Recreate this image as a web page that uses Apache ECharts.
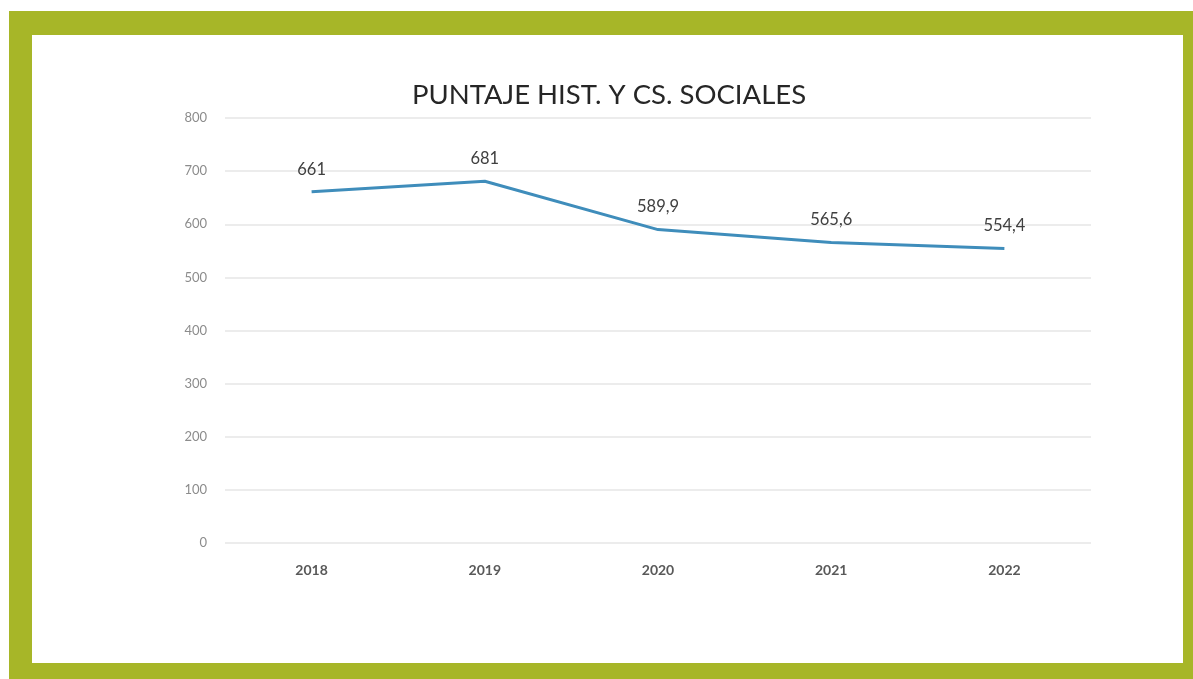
<!DOCTYPE html>
<html>
<head>
<meta charset="utf-8">
<title>Puntaje</title>
<script src="https://cdn.jsdelivr.net/npm/echarts@6/dist/echarts.min.js"></script>
<style>
  body { margin: 0; background: #fff; }
  #frame { position: absolute; left: 9px; top: 11px; width: 1184px; height: 668px; background: #a7b628; }
  #paper { position: absolute; left: 32px; top: 35px; width: 1151px; height: 628px; background: #fff; }
  #main { position: absolute; left: 0; top: 0; width: 1193px; height: 679px; }
</style>
</head>
<body>
<div id="frame"></div>
<div id="paper"></div>
<div id="main"></div>
<script type="text/javascript">
// datos del grafico
var years = ['2018', '2019', '2020', '2021', '2022'];
var puntaje = [661, 681, 589.9, 565.6, 554.4];
var yTicks = [0, 100, 200, 300, 400, 500, 600, 700, 800];

var chart = echarts.init(document.getElementById('main'));

var option = {
  title: {
    text: 'PUNTAJE HIST. Y CS. SOCIALES',
    left: 604,
    textAlign: 'center',
    top: 76,
    textStyle: {
      fontFamily: 'Lato',
      fontWeight: 'normal',
      fontSize: 27.5,
      color: '#262626'
    }
  },
  grid: { left: 225, right: 102, top: 118, bottom: 136 },
  xAxis: {
    type: 'category',
    data: years,
    axisLine: { show: false },
    axisTick: { show: false },
    axisLabel: {
      margin: 20,
      fontFamily: 'Lato',
      fontWeight: 'bold',
      fontSize: 14,
      color: '#595959'
    }
  },
  yAxis: {
    type: 'value',
    min: yTicks[0],
    max: yTicks[yTicks.length - 1],
    interval: 100,
    axisLine: { show: false },
    axisTick: { show: false },
    axisLabel: {
      margin: 18,
      fontFamily: 'Lato',
      fontSize: 13,
      color: '#8c8c8c'
    },
    splitLine: { lineStyle: { color: '#e6e6e6', width: 1.5 } }
  },
  series: [
    {
      type: 'line',
      data: puntaje,
      symbol: 'circle',
      symbolSize: 0,
      showSymbol: true,
      lineStyle: { color: '#3f8dbb', width: 3 },
      itemStyle: { color: '#3f8dbb' },
      label: {
        show: true,
        position: 'top',
        distance: 14,
        fontFamily: 'Lato',
        fontSize: 16.5,
        color: '#404040',
        formatter: function (p) { return String(p.value).replace('.', ','); }
      }
    }
  ]
};

chart.setOption(option);
</script>
</body>
</html>
